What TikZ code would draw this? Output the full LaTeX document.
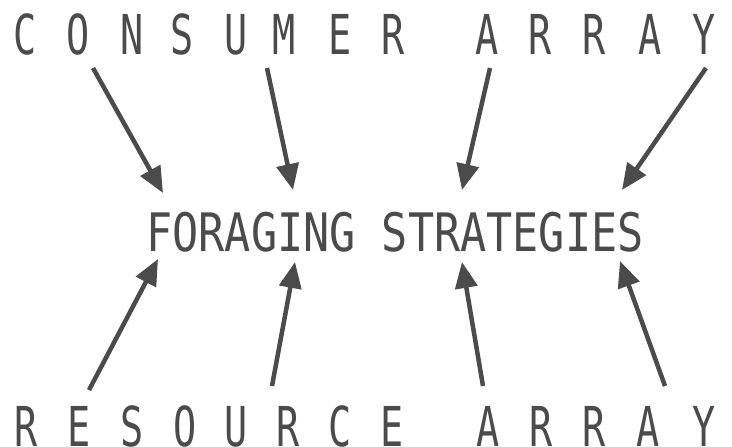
\documentclass[tikz,border=0pt]{standalone}
\usepackage{fontspec}
\usepackage{graphicx}
\setmainfont{DejaVu Sans Mono}
\usetikzlibrary{arrows.meta}
\definecolor{ink}{HTML}{4B4B4B}
\tikzset{
  letter/.style={anchor=base, inner sep=0pt, text=ink, font=\fontsize{55}{55}\selectfont},
  midtext/.style={anchor=base, inner sep=0pt, text=ink, font=\fontsize{53}{53}\selectfont},
  arr/.style={draw=ink, line width=4.5pt, -{Triangle[length=26pt, width=22pt]}, shorten >=0pt}
}
\newcommand{\sq}[1]{\scalebox{0.7}[1]{#1}}
\begin{document}
\begin{tikzpicture}[x=1pt, y=-1pt]
\useasboundingbox (0,0) rectangle (732,447);
% top row
\foreach \ch/\xx [count=\i] in {C/25,O/78,N/132,S/182,U/236,M/284,E/340,R/393,A/487,R/540,R/594,A/650,Y/704}
  \node[letter] (t\i) at (\xx,54) {\sq{\ch}};
% bottom row
\foreach \ch/\xx [count=\i] in {R/26,E/79,S/132,O/185,U/236,R/288,C/340,E/392,A/488,R/541,R/594,A/648,Y/704}
  \node[letter] (b\i) at (\xx,446) {\sq{\ch}};
% middle
\node[midtext] (mid) at (395,251) {\scalebox{0.82}[1]{FORAGING STRATEGIES}};
% arrow endpoints
\coordinate (s1) at (93,68);  \coordinate (e1) at (163,193);
\coordinate (s2) at (267,68); \coordinate (e2) at (293,190);
\coordinate (s3) at (490,68); \coordinate (e3) at (462,190);
\coordinate (s4) at (706,68); \coordinate (e4) at (622,190);
\coordinate (s5) at (89,390); \coordinate (e5) at (158,259);
\coordinate (s6) at (272,386); \coordinate (e6) at (295,262);
\coordinate (s7) at (483,386); \coordinate (e7) at (462,262);
\coordinate (s8) at (665,386); \coordinate (e8) at (620,261);
\foreach \k in {1,...,8} \draw[arr] (s\k) -- (e\k);
\end{tikzpicture}
\end{document}
